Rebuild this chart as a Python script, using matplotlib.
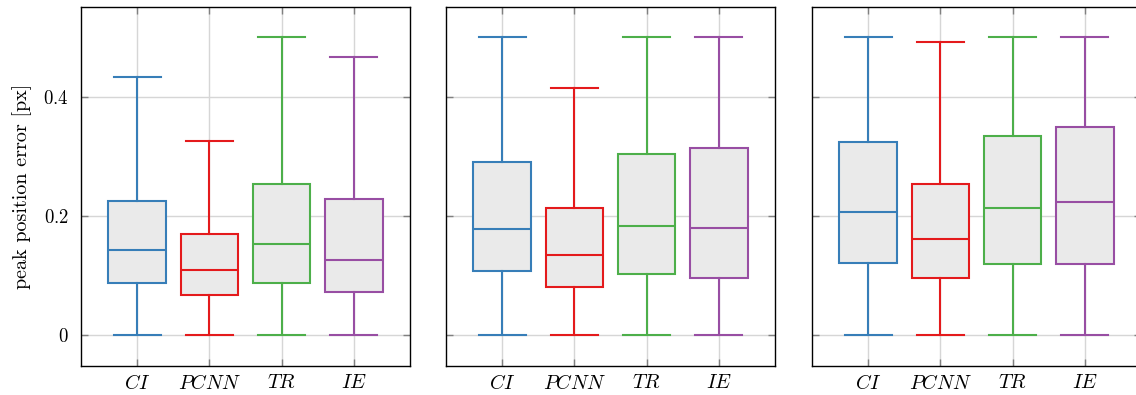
import matplotlib.pyplot as plt

plt.rcParams['font.family'] = 'serif'
plt.rcParams['font.serif'] = ['cmr10', 'DejaVu Serif']
plt.rcParams['mathtext.fontset'] = 'cm'
plt.rcParams['axes.unicode_minus'] = False

methods = ['CI', 'PCNN', 'TR', 'IE']
colors = ['#377eb8', '#e41a1c', '#4daf4a', '#984ea3']

# per panel: whisker low, Q1, median, Q3, whisker high
low_1 = [0.0, 0.0, 0.0, 0.0]
q1_1 = [0.087, 0.067, 0.087, 0.072]
med_1 = [0.143, 0.109, 0.153, 0.126]
q3_1 = [0.225, 0.170, 0.254, 0.229]
high_1 = [0.434, 0.326, 0.500, 0.467]

low_2 = [0.0, 0.0, 0.0, 0.0]
q1_2 = [0.108, 0.081, 0.103, 0.096]
med_2 = [0.178, 0.134, 0.183, 0.180]
q3_2 = [0.291, 0.213, 0.304, 0.314]
high_2 = [0.500, 0.415, 0.500, 0.500]

low_3 = [0.0, 0.0, 0.0, 0.0]
q1_3 = [0.121, 0.096, 0.119, 0.119]
med_3 = [0.207, 0.161, 0.213, 0.224]
q3_3 = [0.324, 0.254, 0.334, 0.350]
high_3 = [0.500, 0.492, 0.500, 0.500]

panels = [
    (low_1, q1_1, med_1, q3_1, high_1),
    (low_2, q1_2, med_2, q3_2, high_2),
    (low_3, q1_3, med_3, q3_3, high_3),
]

fig = plt.figure(figsize=(11.36, 3.95), dpi=100)
lefts = [81, 446, 812]
W, H = 1136, 395

for i, (lo, q1, med, q3, hi) in enumerate(panels):
    ax = fig.add_axes([lefts[i] / W, 1 - 366 / H, 329 / W, 359 / H])
    ax.set_axisbelow(True)
    ax.grid(True, color='#d6d6d6', lw=1.0)
    for k in range(len(methods)):
        stats = [dict(whislo=lo[k], q1=q1[k], med=med[k], q3=q3[k],
                      whishi=hi[k], fliers=[])]
        c = colors[k]
        ax.bxp(stats, positions=[k + 1], widths=0.8, patch_artist=True,
               showfliers=False,
               boxprops=dict(facecolor='#eaeaea', edgecolor=c, lw=1.5),
               medianprops=dict(color=c, lw=1.5),
               whiskerprops=dict(color=c, lw=1.5),
               capprops=dict(color=c, lw=1.5),
               capwidths=0.65)
    ax.set_xlim(0.222, 4.778)
    ax.set_ylim(-0.052, 0.551)
    ax.set_xticks(range(1, len(methods) + 1))
    ax.set_xticklabels(['$' + m + '$' for m in methods], fontsize=14.5)
    ax.set_yticks([0, 0.2, 0.4])
    if i == 0:
        ax.set_yticklabels(['$0$', '$0.2$', '$0.4$'], fontsize=13.5)
        ax.set_ylabel('peak position error [px]', fontsize=14.5, labelpad=8)
    else:
        ax.set_yticklabels([])
    ax.tick_params(direction='in', top=True, right=True, length=5,
                   width=1.0, color='#808080')
    ax.tick_params(axis='x', pad=6)
    ax.tick_params(axis='y', pad=9)
    for s in ax.spines.values():
        s.set_linewidth(1.0)

fig.savefig('out.png', dpi=100)
